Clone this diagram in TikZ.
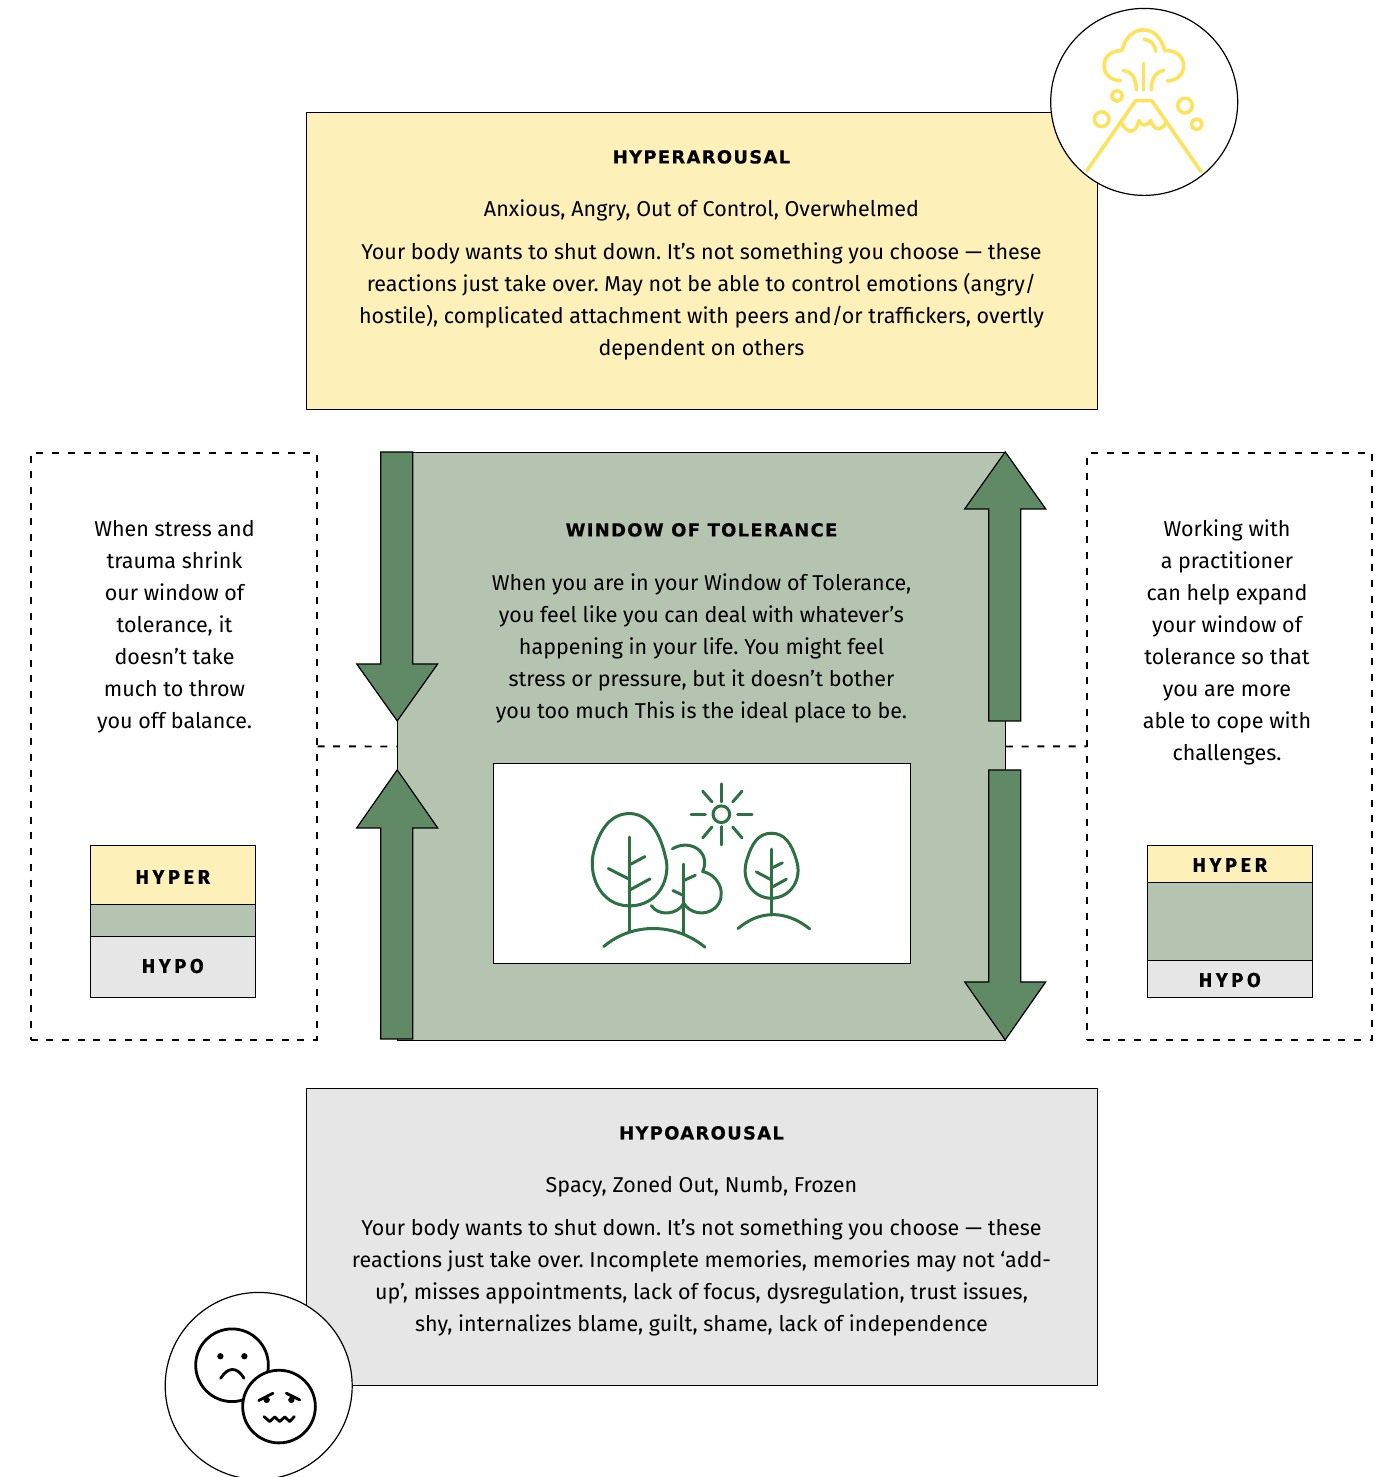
\documentclass[tikz,border=0pt]{standalone}
\usepackage{fontspec}
\setmainfont{Fira Sans}
\frenchspacing
\newfontfamily\headfont[LetterSpace=7,BoldFeatures={FakeBold=0.4}]{DejaVu Sans}
\newfontfamily\minifont[LetterSpace=18,BoldFeatures={FakeBold=0.3}]{Fira Sans}
\definecolor{pyellow}{HTML}{FEF0B9}
\definecolor{pgray}{HTML}{E6E6E6}
\definecolor{pgreen}{HTML}{B5C4B1}
\definecolor{agreen}{HTML}{5F8A65}
\definecolor{igreen}{HTML}{2D7044}
\definecolor{iyellow}{HTML}{FDE25A}
\tikzset{
 box/.style={draw=black,line width=1.2pt,inner sep=0pt,anchor=north west},
 dashbox/.style={box,dash pattern=on 7pt off 8.7pt,line width=1.9pt},
 dashlink/.style={draw=black,dash pattern=on 7pt off 8.7pt,line width=1.9pt},
 body/.style={align=center,inner sep=0pt,xshift=0.3pt,yshift=-1.4pt,font=\fontsize{21.5}{32}\selectfont},
 head/.style={align=center,inner sep=0pt,xshift=0.3pt,yshift=-1pt,font=\headfont\bfseries\fontsize{18}{22}\selectfont},
 mini/.style={align=center,inner sep=0pt,font=\minifont\bfseries\fontsize{20}{24}\selectfont},
 arrowshape/.style={fill=agreen,draw=black,line width=1.2pt,line join=miter},
 iconv/.style={draw=iyellow,line width=3.5pt,line cap=round,line join=round},
 icont/.style={draw=igreen,line width=3pt,line cap=round,line join=round},
 iconf/.style={draw=black,line width=2.8pt,line cap=round,line join=round},
 badge/.style={circle,draw=black,fill=white,line width=1.2pt,inner sep=0pt,minimum size=187pt},
}
\begin{document}
\begin{tikzpicture}[x=1pt,y=-1pt]
\useasboundingbox (0,0) rectangle (1379,1477);
\begin{scope}[shift={(-0.3,-0.1)}]
% top and bottom boxes
\node[box,fill=pyellow,minimum width=791pt,minimum height=297pt] (hyperbox) at (306,112) {};
\node[box,fill=pgray,minimum width=791pt,minimum height=297pt] (hypobox) at (306,1088) {};
\node[head] (hypertitle) at (701.5,156) {HYPERAROUSAL};
\node[body] (hypersub) at (701.5,209) {Anxious, Angry, Out of Control, Overwhelmed};
\node[body] (hypertext) at (701.5,300) {Your body wants to shut down. It’s not something you choose — these\\reactions just take over. May not be able to control emotions (angry/\\hostile), complicated attachment with peers and/or traffickers, overtly\\dependent on others};
\node[head] (hypotitle) at (701.5,1132) {HYPOAROUSAL};
\node[body] (hyposub) at (701.5,1185) {Spacy, Zoned Out, Numb, Frozen};
\node[body] (hypotext) at (701.5,1276) {Your body wants to shut down. It’s not something you choose — these\\reactions just take over. Incomplete memories, memories may not ‘add-\\up’, misses appointments, lack of focus, dysregulation, trust issues,\\shy, internalizes blame, guilt, shame, lack of independence};
% side dashed boxes
\node[dashbox,minimum width=286pt,minimum height=587pt] (leftbox) at (29.9,452) {};
\node[dashbox,minimum width=285pt,minimum height=587pt] (rightbox) at (1086.4,452) {};
% central panel
\node[box,fill=pgreen,minimum width=608pt,minimum height=588pt] (panel) at (397,452) {};
\draw[dashlink] (leftbox.east) -- (panel.west);
\draw[dashlink] (panel.east) -- (rightbox.west);
% arrows
\draw[arrowshape] (381,452) -- (413,452) -- (413,664) -- (438,664) -- (397.5,721) -- (357,664) -- (381,664) -- cycle;
\draw[arrowshape] (381,1039) -- (413,1039) -- (413,828) -- (438,828) -- (397.5,770) -- (357,828) -- (381,828) -- cycle;
\draw[arrowshape] (989,721) -- (1021,721) -- (1021,509) -- (1046,509) -- (1005.5,452) -- (965,509) -- (989,509) -- cycle;
\draw[arrowshape] (989,770) -- (1021,770) -- (1021,982) -- (1046,982) -- (1005.5,1040) -- (965,982) -- (989,982) -- cycle;
% central texts
\node[head] (wintitle) at (701.5,529) {WINDOW OF TOLERANCE};
\node[body] (wintext) at (701.5,647) {When you are in your Window of Tolerance,\\you feel like you can deal with whatever’s\\happening in your life. You might feel\\stress or pressure, but it doesn’t bother\\you too much This is the ideal place to be.};
\node[box,fill=white,minimum width=417pt,minimum height=200pt] (scene) at (493,763) {};
% side texts
\node[body] (lefttext) at (174.5,625) {When stress and\\trauma shrink\\our window of\\tolerance, it\\doesn’t take\\much to throw\\you off balance.};
\node[body] (righttext) at (1227,641) {Working with\\a practitioner\\can help expand\\your window of\\tolerance so that\\you are more\\able to cope with\\challenges.};
% mini charts
\node[box,fill=pyellow,minimum width=165pt,minimum height=59pt] (lh) at (90,845) {};
\node[box,fill=pgreen,minimum width=165pt,minimum height=32pt] (lw) at (90,904) {};
\node[box,fill=pgray,minimum width=165pt,minimum height=61pt] (ll) at (90,936) {};
\node[mini] at (lh.center) [yshift=-2pt] {HYPER};
\node[mini] at (ll.center) [yshift=1pt] {HYPO};
\node[box,fill=pyellow,minimum width=165pt,minimum height=37pt] (rh) at (1147,845) {};
\node[box,fill=pgreen,minimum width=165pt,minimum height=78pt] (rw) at (1147,882) {};
\node[box,fill=pgray,minimum width=165pt,minimum height=37pt] (rl) at (1147,960) {};
\node[mini] at (rh.center) [yshift=-1pt] {HYPER};
\node[mini] at (rl.center) [yshift=-1pt] {HYPO};
% volcano badge
\node[badge] (volc) at (1144.5,102) {};
\begin{scope}[shift={(1040,0)},x=0.3333pt,y=-0.3333pt]
\draw[iconv] (243,242) .. controls (215,242) and (193,225) .. (193,197) .. controls (193,170) and (215,152) .. (247,152) .. controls (255,115) and (280,90) .. (310,90) .. controls (345,90) and (365,115) .. (375,152) .. controls (410,150) and (432,172) .. (432,197) .. controls (432,225) and (410,243) .. (383,243);
\draw[iconv] (313,118) .. controls (335,122) and (347,135) .. (348,155);
\draw[iconv] (312,190) -- (312,270);
\draw[iconv] (250,212) .. controls (278,214) and (290,238) .. (290,270);
\draw[iconv] (373,212) .. controls (347,214) and (335,238) .. (335,270);
\draw[iconv] (232,288) circle[radius=16];
\draw[iconv] (186,358) circle[radius=22];
\draw[iconv] (436,317) circle[radius=22];
\draw[iconv] (471,373) circle[radius=16];
\draw[iconv] (142,512) -- (288,302) -- (336,302) -- (484,515);
\draw[iconv] (245,368) .. controls (258,395) and (285,412) .. (298,362) .. controls (305,380) and (325,380) .. (332,362) .. controls (345,395) and (365,392) .. (378,370);
\end{scope}
% faces badge
\node[badge] (faces) at (259,1386) {};
\begin{scope}[shift={(160,1285)},x=0.3333pt,y=-0.3333pt]
\draw[iconf] (217,241) circle[radius=109];
\fill (182,214) circle[radius=9.5];
\fill (254,214) circle[radius=9.5];
\draw[iconf] (183,280) .. controls (205,245) and (232,245) .. (253,280);
\draw[iconf,fill=white] (358,365) circle[radius=109];
\fill (321,345) circle[radius=9.5];
\fill (395,345) circle[radius=9.5];
\draw[iconf] (297,347) -- (340,325);
\draw[iconf] (420,345) -- (380,325);
\draw[iconf] (313,395) -- (330,410) -- (345,396) -- (360,410) -- (375,396) -- (390,410) -- (404,395);
\end{scope}
% trees and sun
\begin{scope}[shift={(490,760)},x=0.3333pt,y=-0.3333pt]
\draw[icont] (695,163) circle[radius=25];
\draw[icont] (695,72) -- (695,126);
\draw[icont] (695,200) -- (695,255);
\draw[icont] (604,163) -- (647,163);
\draw[icont] (744,163) -- (787,163);
\draw[icont] (639,94) -- (667,126);
\draw[icont] (757,94) -- (729,126);
\draw[icont] (639,234) -- (667,201);
\draw[icont] (757,234) -- (729,201);
% big tree
\draw[icont] (419,161) .. controls (360,161) and (330,215) .. (315,265) .. controls (290,340) and (330,438) .. (419,438) .. controls (510,438) and (545,350) .. (527,290) .. controls (510,215) and (475,161) .. (419,161) -- cycle;
\draw[icont] (419,232) -- (419,515);
\draw[icont] (356,326) -- (419,358);
\draw[icont] (419,315) -- (466,290);
\draw[icont] (419,391) -- (481,357);
% middle tree
\draw[icont] (548,267) .. controls (600,235) and (665,275) .. (639,335) .. controls (690,345) and (715,410) .. (675,445) .. controls (645,470) and (600,460) .. (582,430) .. controls (565,465) and (505,470) .. (485,437);
\draw[icont] (582,313) -- (582,522);
\draw[icont] (582,362) -- (617,346);
\draw[icont] (550,392) -- (582,407);
% small tree
\draw[icont] (845,220) .. controls (805,220) and (785,255) .. (773,295) .. controls (750,360) and (790,415) .. (845,415) .. controls (900,415) and (940,360) .. (920,300) .. controls (905,250) and (885,220) .. (845,220) -- cycle;
\draw[icont] (845,268) -- (845,466);
\draw[icont] (800,336) -- (845,360);
\draw[icont] (845,325) -- (878,309);
\draw[icont] (845,383) -- (890,358);
% hills
\draw[icont] (342,560) .. controls (430,485) and (560,490) .. (646,562);
\draw[icont] (745,506) .. controls (810,450) and (890,450) .. (960,507);
\end{scope}
\end{scope}
\end{tikzpicture}
\end{document}
